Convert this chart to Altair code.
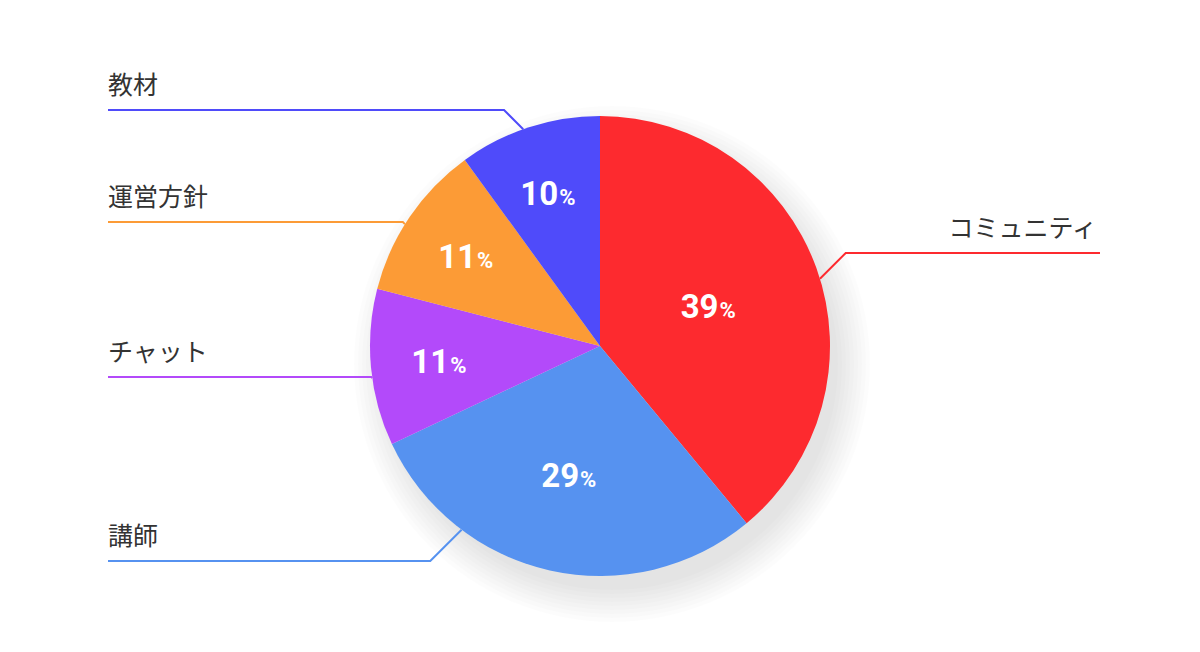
import math
import altair as alt
import pandas as pd

# ---- data ----
categories = ["コミュニティ", "講師", "チャット", "運営方針", "教材"]
values = [39, 29, 11, 11, 10]
colors = ["#FD2A2F", "#5692F0", "#B34AFA", "#FC9B36", "#4F4BFA"]

# ---- layout (page pixel coordinates) ----
CX, CY, R = 600, 346, 230
anchor_deg = [73, 217, 262, 302, 340.5]
line_y = [253, 561, 377, 222, 110]
line_end_x = [1100, 108, 108, 108, 108]
OFF = 8  # page margin

total = sum(values)
df = pd.DataFrame({"cat": categories, "value": values, "order": range(len(values))})
df["frac"] = df["value"] / total
df["mid"] = (df["frac"].cumsum() - df["frac"] / 2) * 2 * math.pi
df["lr"] = 176 - 150 * df["frac"]
df["num"] = df["value"].astype(str)

color_scale = alt.Scale(domain=categories, range=colors)

W, H = 1184, 636
xs = alt.Scale(domain=[OFF, OFF + W])
ys = alt.Scale(domain=[OFF, OFF + H], reverse=True)
center = dict(x=alt.value(CX - OFF), y=alt.value(CY - OFF))

# soft shadow: stacked translucent discs (full circle, independent of pie scale)
one = pd.DataFrame({"v": [2 * math.pi]})
shadow_layers = [
    alt.Chart(one).mark_arc(outerRadius=r, fill="#000000", opacity=0.011).encode(
        theta=alt.Theta("v:Q", scale=None),
        x=alt.value(CX - OFF + 12),
        y=alt.value(CY - OFF + 18),
    )
    for r in [226, 230, 234, 238, 242, 246, 250, 254, 258]
]

base = alt.Chart(df)
pie = base.mark_arc(outerRadius=R).encode(
    theta=alt.Theta("value:Q", stack=True),
    order=alt.Order("order:Q"),
    color=alt.Color("cat:N", scale=color_scale, legend=None),
    **center,
)

nums = base.mark_text(font="Roboto", fontWeight="bold", fontSize=33, color="white",
                      align="right", baseline="alphabetic", dx=8, dy=12).encode(
    theta=alt.Theta("mid:Q", scale=None),
    radius=alt.Radius("lr:Q", scale=None),
    text="num:N",
    **center,
)
pct = base.mark_text(font="Roboto", fontWeight="bold", fontSize=22, color="white",
                     align="left", baseline="alphabetic", dx=9, dy=12).encode(
    theta=alt.Theta("mid:Q", scale=None),
    radius=alt.Radius("lr:Q", scale=None),
    text=alt.value("%"),
    **center,
)

# leader lines
rows = []
lab_rows = []
for i, c in enumerate(categories):
    a = math.radians(anchor_deg[i])
    sx = CX + R * math.sin(a)
    sy = CY - R * math.cos(a)
    direction = 1 if line_end_x[i] > CX else -1
    ex = sx + direction * abs(line_y[i] - sy)
    rows.append({"cat": c, "k": 0, "x": sx, "y": sy})
    rows.append({"cat": c, "k": 1, "x": ex, "y": line_y[i]})
    rows.append({"cat": c, "k": 2, "x": line_end_x[i], "y": line_y[i]})
    lab_rows.append({"cat": c, "x": line_end_x[i] - (3 if direction > 0 else 0),
                     "y": line_y[i] - 24, "side": "R" if direction > 0 else "L"})
lines = pd.DataFrame(rows)
labs = pd.DataFrame(lab_rows)

leader = alt.Chart(lines).mark_line(strokeWidth=2).encode(
    x=alt.X("x:Q", scale=xs, axis=None),
    y=alt.Y("y:Q", scale=ys, axis=None),
    order="k:Q",
    color=alt.Color("cat:N", scale=color_scale, legend=None),
    detail="cat:N",
)

lab_l = alt.Chart(labs[labs.side == "L"]).mark_text(
    font="Noto Sans CJK JP", fontSize=25, color="#333333", align="left", baseline="middle"
).encode(x=alt.X("x:Q", scale=xs, axis=None), y=alt.Y("y:Q", scale=ys, axis=None), text="cat:N")
lab_r = alt.Chart(labs[labs.side == "R"]).mark_text(
    font="Noto Sans CJK JP", fontSize=25, color="#333333", align="right", baseline="middle"
).encode(x=alt.X("x:Q", scale=xs, axis=None), y=alt.Y("y:Q", scale=ys, axis=None), text="cat:N")

chart = alt.layer(*shadow_layers, pie, nums, pct, leader, lab_l, lab_r).properties(
    width=W, height=H, padding=0, autosize=alt.AutoSizeParams(type="none"), background="white"
).configure_view(stroke=None)

chart.save("out.html", embed_options={"renderer": "svg", "actions": False})
